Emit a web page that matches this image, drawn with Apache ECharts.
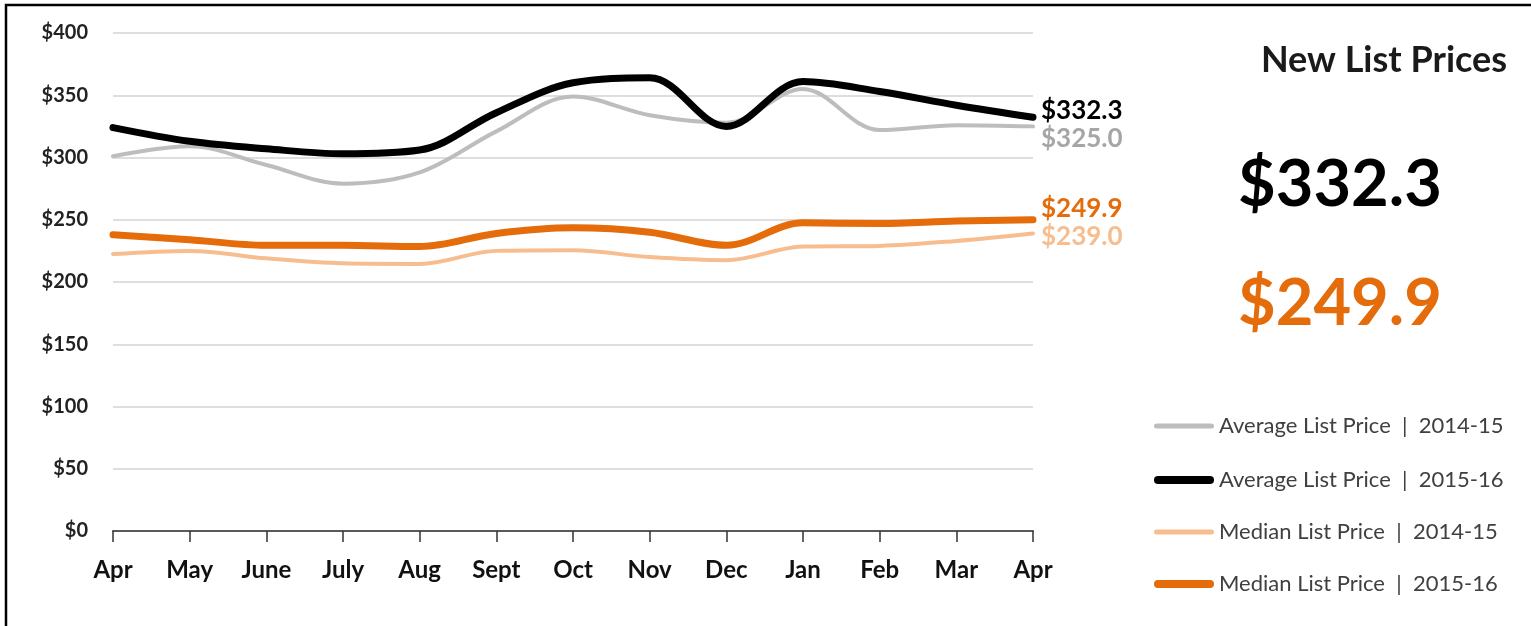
<!DOCTYPE html>
<html>
<head>
<meta charset="utf-8">
<script src="https://cdn.jsdelivr.net/npm/echarts@6/dist/echarts.min.js"></script>
<style>
  html, body { margin: 0; padding: 0; background: #fff; }
  #main { width: 1531px; height: 626px; }
</style>
</head>
<body>
<div id="main"></div>
<script>
// months, Apr to Apr
var months = ['Apr', 'May', 'June', 'July', 'Aug', 'Sept', 'Oct', 'Nov', 'Dec', 'Jan', 'Feb', 'Mar', 'Apr'];
var yTicks = [0, 50, 100, 150, 200, 250, 300, 350, 400];

var avg1415 = [301, 309, 294, 279, 288, 321, 349, 334, 328, 355, 322, 326, 325.0];
var avg1516 = [324, 313, 307, 303, 306, 336, 360, 364, 325, 361, 353, 342, 332.3];
var med1415 = [222.5, 225, 219, 215, 214.5, 225, 225.5, 220, 217.5, 228.5, 229, 233, 239.0];
var med1516 = [238, 234, 229.5, 229.5, 228.5, 239, 243.5, 240, 229.5, 247.5, 247, 249, 249.9];

var names = [
    'Average List Price  |  2014-15',
    'Average List Price  |  2015-16',
    'Median List Price  |  2014-15',
    'Median List Price  |  2015-16'
];
var colors = ['#bdbdbd', '#000000', '#f8bd8e', '#e46c0a'];
var widths = [4, 7, 4, 7];

var FONT = 'Lato';
var myChart = echarts.init(document.getElementById('main'));

// rounded bar icons for legend (thin / thick)
var thinIcon = 'path://M2.5,0 L57.5,0 A2.5,2.5 0 0 1 57.5,5 L2.5,5 A2.5,2.5 0 0 1 2.5,0 Z';
var thickIcon = 'path://M4,0 L56,0 A4,4 0 0 1 56,8 L4,8 A4,4 0 0 1 4,0 Z';

function mkSeries(i, data, labelColor, dy) {
    return {
        name: names[i],
        type: 'line',
        data: data,
        smooth: 0.35,
        symbol: 'none',
        lineStyle: { color: colors[i], width: widths[i], cap: 'round', join: 'round' },
        itemStyle: { color: colors[i] },
        endLabel: {
            show: true,
            distance: 8,
            offset: [0, dy],
            color: labelColor,
            fontFamily: FONT,
            fontWeight: 'bold',
            fontSize: 26,
            formatter: function(p) { return '$' + p.value.toFixed(1); }
        },
        z: widths[i] > 5 ? 3 : 2
    };
}

function mkLegend(i, centerY) {
    var thick = widths[i] > 5;
    var h = thick ? 8 : 5;
    return {
        orient: 'vertical',
        left: 1149,
        top: centerY - 17,
        itemWidth: 60,
        itemHeight: h,
        icon: thick ? thickIcon : thinIcon,
        textStyle: { fontFamily: FONT, fontSize: 22, color: '#404040', lineHeight: 26 },
        data: [names[i]]
    };
}

var option = {
    animation: false,
    backgroundColor: '#fff',
    grid: { left: 113, right: 498, top: 33, bottom: 95 },
    title: {
        text: 'New List Prices',
        left: 1379,
        top: 37,
        textAlign: 'center',
        textStyle: { fontFamily: FONT, fontWeight: 'bold', fontSize: 36, color: '#1a1a1a' }
    },
    legend: [mkLegend(0, 425), mkLegend(1, 479), mkLegend(2, 531), mkLegend(3, 583)],
    xAxis: {
        type: 'category',
        data: months,
        boundaryGap: false,
        axisLine: { lineStyle: { color: '#595959', width: 2 } },
        axisTick: { show: true, length: 11, lineStyle: { color: '#333', width: 1.5 } },
        axisLabel: { color: '#111', fontFamily: FONT, fontWeight: 'bold', fontSize: 24, margin: 27 },
        splitLine: { show: false }
    },
    yAxis: {
        type: 'value',
        min: 0,
        max: 400,
        interval: 50,
        axisLine: { show: false },
        axisTick: { show: false },
        axisLabel: {
            color: '#222', fontFamily: FONT, fontWeight: 'bold', fontSize: 20, margin: 25,
            formatter: function(v) { return '$' + v; }
        },
        splitLine: { lineStyle: { color: '#dedede', width: 2 } }
    },
    series: [
        mkSeries(0, avg1415, '#a6a6a6', 12),
        mkSeries(1, avg1516, '#000000', -7),
        mkSeries(2, med1415, '#f8bd8e', 3),
        mkSeries(3, med1516, '#e46c0a', -11)
    ],
    graphic: [
        {
            type: 'rect',
            shape: { x: 6, y: 5, width: 1540, height: 640 },
            style: { fill: null, stroke: '#000', lineWidth: 2.5 },
            silent: true
        },
        {
            type: 'text',
            left: 1238,
            top: 153,
            style: {
                text: '$' + avg1516[avg1516.length - 1].toFixed(1),
                font: 'bold 65px Lato',
                fill: '#000'
            }
        },
        {
            type: 'text',
            left: 1238,
            top: 272,
            style: {
                text: '$' + med1516[med1516.length - 1].toFixed(1),
                font: 'bold 65px Lato',
                fill: '#e46c0a'
            }
        }
    ]
};

myChart.setOption(option);
</script>
</body>
</html>
